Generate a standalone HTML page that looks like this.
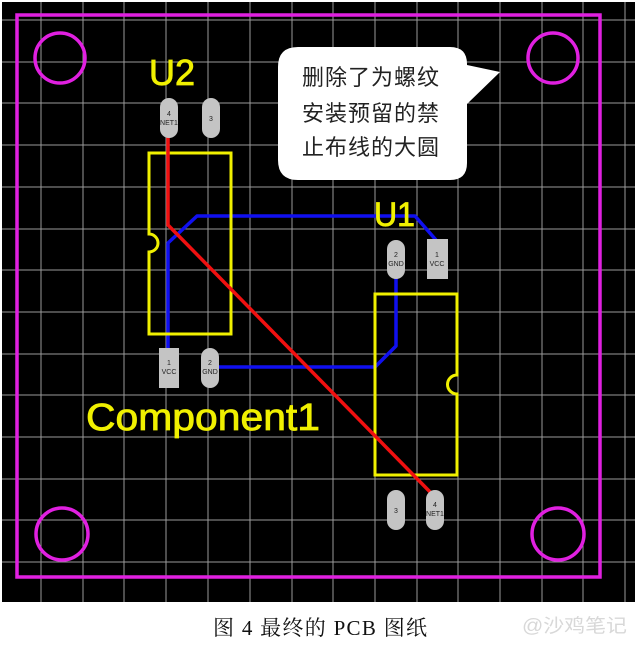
<!DOCTYPE html>
<html><head><meta charset="utf-8"><style>
html,body{margin:0;padding:0;background:#fff;width:640px;height:648px;overflow:hidden}
svg{display:block}
</style></head><body>
<svg width="640" height="648" viewBox="0 0 640 648" xmlns="http://www.w3.org/2000/svg">
<rect x="0" y="0" width="640" height="648" fill="#fff"/>
<rect x="2" y="2" width="633" height="600" fill="#000"/>
<g stroke="#9a9a9a" stroke-width="1">
<line x1="41" y1="2" x2="41" y2="602"/><line x1="83" y1="2" x2="83" y2="602"/><line x1="124" y1="2" x2="124" y2="602"/><line x1="166" y1="2" x2="166" y2="602"/><line x1="208" y1="2" x2="208" y2="602"/><line x1="250" y1="2" x2="250" y2="602"/><line x1="292" y1="2" x2="292" y2="602"/><line x1="333" y1="2" x2="333" y2="602"/><line x1="375" y1="2" x2="375" y2="602"/><line x1="417" y1="2" x2="417" y2="602"/><line x1="458" y1="2" x2="458" y2="602"/><line x1="500" y1="2" x2="500" y2="602"/><line x1="542" y1="2" x2="542" y2="602"/><line x1="583" y1="2" x2="583" y2="602"/><line x1="625" y1="2" x2="625" y2="602"/>
<line x1="2" y1="20" x2="635" y2="20"/><line x1="2" y1="62" x2="635" y2="62"/><line x1="2" y1="103" x2="635" y2="103"/><line x1="2" y1="145" x2="635" y2="145"/><line x1="2" y1="187" x2="635" y2="187"/><line x1="2" y1="229" x2="635" y2="229"/><line x1="2" y1="270" x2="635" y2="270"/><line x1="2" y1="312" x2="635" y2="312"/><line x1="2" y1="354" x2="635" y2="354"/><line x1="2" y1="395" x2="635" y2="395"/><line x1="2" y1="437" x2="635" y2="437"/><line x1="2" y1="479" x2="635" y2="479"/><line x1="2" y1="520" x2="635" y2="520"/><line x1="2" y1="562" x2="635" y2="562"/>
</g>
<g fill="none" stroke="#e020e0" stroke-width="3.5">
<rect x="17" y="15" width="583" height="562"/>
<circle cx="60" cy="58" r="25"/><circle cx="553" cy="58" r="25"/>
<circle cx="62" cy="534" r="26"/><circle cx="558" cy="534" r="26"/>
</g>
<g fill="none" stroke="#1010f0" stroke-width="3.5" stroke-linejoin="round">
<polyline points="168,352 168,243 197,216 415,216 436,240"/>
<polyline points="218,367 375,367 396,346 396,278"/>
</g>
<g fill="none" stroke="#f0f000" stroke-width="3">
<path d="M149,153 H231 V334 H149 V252 A9,9 0 0 0 149,234 Z"/>
<path d="M375,294 H457 V375 A9,9 0 0 0 457,394 V475 H375 Z"/>
</g>
<polyline points="168,136 168,225 435,497" fill="none" stroke="#f01010" stroke-width="3.5"/>
<g fill="#c4c4c4">
<rect x="160" y="98" width="18" height="40" rx="9"/>
<rect x="202" y="98" width="18" height="40" rx="9"/>
<rect x="159" y="348" width="20" height="40"/>
<rect x="201" y="348" width="18" height="40" rx="9"/>
<rect x="387" y="240" width="18" height="39" rx="9"/>
<rect x="427" y="239" width="21" height="40"/>
<rect x="387" y="490" width="18" height="40" rx="9"/>
<rect x="426" y="490" width="18" height="40" rx="9"/>
</g>
<g font-family="Liberation Sans, sans-serif" font-size="7" fill="#222" text-anchor="middle">
<text x="169" y="116">4</text><text x="169" y="125">NET1</text>
<text x="211" y="121">3</text>
<text x="169" y="365">1</text><text x="169" y="374">VCC</text>
<text x="210" y="365">2</text><text x="210" y="374">GND</text>
<text x="396" y="257">2</text><text x="396" y="266">GND</text>
<text x="437" y="257">1</text><text x="437" y="266">VCC</text>
<text x="396" y="513">3</text>
<text x="435" y="507">4</text><text x="435" y="516">NET1</text>
</g>
<g font-family="Liberation Sans, sans-serif" fill="#f0f000" stroke="#f0f000" stroke-width="0.8">
<text x="149" y="85" font-size="36" textLength="46" lengthAdjust="spacingAndGlyphs">U2</text>
<text x="374" y="226" font-size="34" textLength="41" lengthAdjust="spacingAndGlyphs">U1</text>
<text x="86" y="430" font-size="38" textLength="234" lengthAdjust="spacingAndGlyphs">Component1</text>
</g>
<path d="M298,47 H450 Q467,47 467,64 V65 L500,72 L467,104 V163 Q467,180 450,180 H298 Q278,180 278,160 V67 Q278,47 298,47 Z" fill="#fff"/>
<g font-family="Liberation Sans, Noto Sans CJK SC, sans-serif" font-size="22" fill="#222" letter-spacing="1">
<text x="302" y="85">删除了为螺纹</text>
<text x="302" y="121">安装预留的禁</text>
<text x="302" y="155">止布线的大圆</text>
</g>
<text x="213" y="635" font-family="Liberation Serif, Noto Serif CJK SC, serif" font-size="21" fill="#111" textLength="214" lengthAdjust="spacing" xml:space="preserve">图 4 最终的 PCB 图纸</text>
<text x="522" y="632" font-family="Liberation Sans, Noto Sans CJK SC, sans-serif" font-size="19" fill="#d8d8d8" textLength="105" lengthAdjust="spacingAndGlyphs">@沙鸡笔记</text>
</svg>
</body></html>
